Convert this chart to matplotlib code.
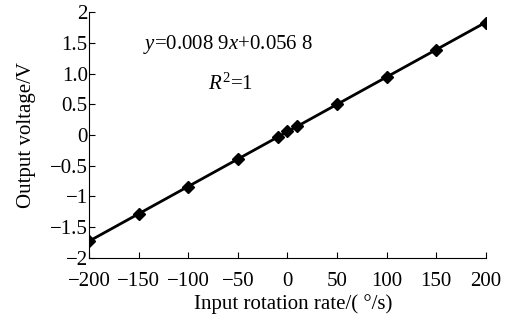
import numpy as np
import matplotlib
matplotlib.use('Agg')
import matplotlib.pyplot as plt

# input rotation rate (deg/s) and measured output voltage (V)
rate = [-200, -150, -100, -50, -10, 0, 10, 50, 100, 150, 200]
volt = [-1.72, -1.29, -0.84, -0.39, -0.04, 0.06, 0.14, 0.51, 0.95, 1.39, 1.83]

xticks = [-200, -150, -100, -50, 0, 50, 100, 150, 200]
xtick_labels = ['\u2212200', '\u2212150', '\u2212100', '\u221250', '0', '50', '100', '150', '200']
yticks = [-2, -1.5, -1, -0.5, 0, 0.5, 1.0, 1.5, 2]
ytick_labels = ['\u22122', '\u22121.5', '\u22121', '\u22120.5', '0', '0.5', '1.0', '1.5', '2']

plt.rcParams['font.family'] = ['Liberation Serif', 'DejaVu Serif']
plt.rcParams['mathtext.fontset'] = 'custom'
plt.rcParams['mathtext.rm'] = 'Liberation Serif'
plt.rcParams['mathtext.it'] = 'Liberation Serif:italic'

fig = plt.figure(figsize=(5.12, 3.2), dpi=100, facecolor='w')
ax = fig.add_axes([0.174, 0.194, 0.775, 0.768])

# fitted line
p = np.polyfit(rate, volt, 1)
xl = np.array([min(rate), max(rate)])
ax.plot(xl, np.polyval(p, xl), color='k', linewidth=2.0, zorder=2)
ax.plot(rate, volt, linestyle='none', marker='D', markersize=6.5, color='k', zorder=3)

ax.set_xlim(-200, 200)
ax.set_ylim(-2, 2)
ax.set_xticks(xticks)
ax.set_xticklabels(xtick_labels)
ax.set_yticks(yticks)
ax.set_yticklabels(ytick_labels)
ax.tick_params(direction='in', length=4, width=0.8, labelsize=15)
ax.tick_params(axis='x', pad=10)
ax.tick_params(axis='y', pad=1)
for s in ['top', 'right']:
    ax.spines[s].set_visible(False)
for s in ['left', 'bottom']:
    ax.spines[s].set_linewidth(0.8)

ax.set_xlabel('Input rotation rate/( \u00b0/s)', fontsize=15)
ax.set_ylabel('Output voltage/V', fontsize=15)
ax.xaxis.set_label_coords(0.515, -0.148)
ax.yaxis.set_label_coords(-0.135, 0.5)

ax.text(0.135, 0.85, r'$y$=0.008 9$x$+0.056 8', transform=ax.transAxes, fontsize=15)
ax.text(0.30, 0.685, r'$R^2$=1', transform=ax.transAxes, fontsize=15)

plt.savefig('out.png', dpi=100)
plt.close(fig)
